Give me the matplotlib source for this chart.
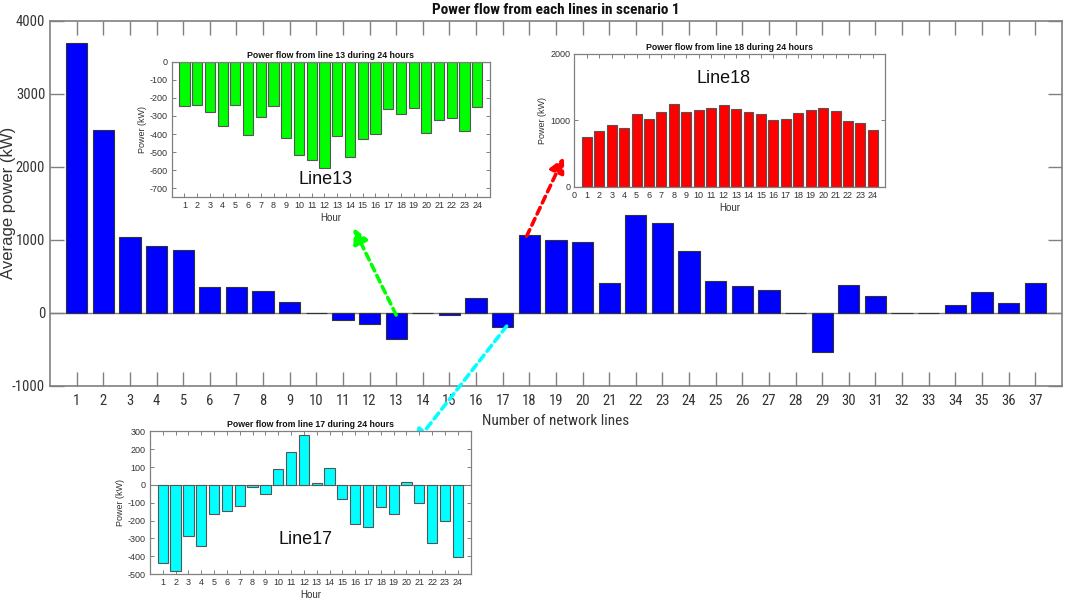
import matplotlib.pyplot as plt
import numpy as np

plt.rcParams['font.family'] = ['Liberation Sans', 'DejaVu Sans']
plt.rcParams['axes.unicode_minus'] = False

# average power of each network line (kW)
lines = np.arange(1, 38)
avg_power = [3690, 2510, 1040, 910, 855, 350, 350, 300, 150, 0,
             -100, -155, -360, 0, -23, 200, -192, 1062, 999, 967,
             415, 1341, 1227, 844, 433, 369, 315, 0, -534, 383,
             233, 0, 0, 105, 283, 132, 415]

hours = np.arange(1, 25)
line13 = [-244, -239, -276, -353, -239, -406, -305, -244, -423, -518, -546, -586,
          -412, -526, -430, -399, -259, -289, -257, -393, -325, -312, -384, -252]
line18 = [753, 838, 939, 889, 1096, 1025, 1131, 1242, 1121, 1157, 1192, 1227,
          1177, 1131, 1091, 1000, 1015, 1111, 1157, 1192, 1146, 995, 955, 864]
line17 = [-436, -481, -287, -345, -162, -149, -121, -14, -50, 89, 182, 279,
          8, 93, -81, -217, -234, -126, -165, 18, -104, -328, -203, -405]

GRAY = '#808080'
TXT = '#333333'
NARROW = ['Roboto Condensed', 'Liberation Sans Narrow', 'DejaVu Sans']

fig = plt.figure(figsize=(10.65, 6.02), dpi=100)

ax = fig.add_axes([0.047, 0.359, 0.950, 0.6066])
ax.bar(lines, avg_power, width=0.8, color='#0000ff', edgecolor='#333333', linewidth=0.8, zorder=2)
ax.axhline(0, color=GRAY, lw=1, zorder=1)
ax.set_xlim(0, 38)
ax.set_ylim(-1000, 4000)
ax.set_xticks(lines)
ax.set_yticks([-1000, 0, 1000, 2000, 3000, 4000])
ax.tick_params(direction='in', length=10, width=1, color=GRAY, labelcolor=TXT,
               top=True, right=True, labelsize=10.5, pad=3.5)
ax.tick_params(axis='x', pad=6)
for lab in ax.get_xticklabels() + ax.get_yticklabels():
    lab.set_family(NARROW)
    lab.set_stretch('condensed')
for s in ax.spines.values():
    s.set_color(GRAY)
    s.set_linewidth(1.2)
ax.set_xlabel('Number of network lines', fontsize=11, color=TXT, family=NARROW,
              fontstretch='condensed', labelpad=4)
ax.set_ylabel('Average power (kW)', fontsize=12, color=TXT)
ax.yaxis.set_label_coords(-0.034, 0.5)
ax.set_title('Power flow from each lines in scenario 1', fontsize=11, fontweight='bold',
             color='#111111', family=NARROW, fontstretch='condensed', pad=5)


def inset(rect, x, y, color, title, xlim, ylim, yticks, xticks, tag, tag_xy):
    a = fig.add_axes(rect)
    a.bar(x, y, width=0.8, color=color, edgecolor='#555555', linewidth=0.8, zorder=2)
    a.axhline(0, color=GRAY, lw=0.8, zorder=1)
    a.set_xlim(*xlim)
    a.set_ylim(*ylim)
    a.set_xticks(xticks)
    a.set_yticks(yticks)
    a.tick_params(direction='in', length=3, width=0.7, color=GRAY, labelcolor=TXT,
                  top=True, right=True, labelsize=6.5, pad=3)
    for s in a.spines.values():
        s.set_color(GRAY)
        s.set_linewidth(0.9)
    a.set_xlabel('Hour', fontsize=7, color=TXT, labelpad=2)
    a.set_ylabel('Power (kW)', fontsize=6.5, color=TXT, labelpad=2)
    a.set_title(title, fontsize=6.3, fontweight='bold', color='#111111', pad=3)
    a.text(tag_xy[0], tag_xy[1], tag, fontsize=13, color='#111111', ha='center', va='center')
    return a


inset([0.1612, 0.6723, 0.2989, 0.2252], hours, line13, '#00ff00',
      'Power flow from line 13 during 24 hours', (0, 25), (-750, 0),
      np.arange(-700, 1, 100), hours, 'Line13', (12.1, -650))
inset([0.5393, 0.6894, 0.2920, 0.2209], hours, line18, '#ff0000',
      'Power flow from line 18 during 24 hours', (0, 25), (0, 2000),
      [0, 1000, 2000], np.arange(0, 25), 'Line18', (12, 1630))
inset([0.1408, 0.0465, 0.3011, 0.2370], hours, line17, '#00ffff',
      'Power flow from line 17 during 24 hours', (0, 25), (-500, 300),
      np.arange(-500, 301, 100), hours, 'Line17', (12.1, -305))

arrows = [((13, -30), (11.4, 1163), '#00ff00'),
          ((17.9, 1049), (19.3, 2134), '#ff0000'),
          ((17.15, -182), (13.66, -1808), '#00ffff')]
for tail, head, c in arrows:
    ax.annotate('', xy=head, xytext=tail, annotation_clip=False, zorder=5,
                arrowprops=dict(arrowstyle='-|>,head_length=0.9,head_width=0.45',
                                color=c, lw=2.6, linestyle=(0, (2, 1.4)),
                                shrinkA=0, shrinkB=0))

fig.savefig('out.png', dpi=100)
